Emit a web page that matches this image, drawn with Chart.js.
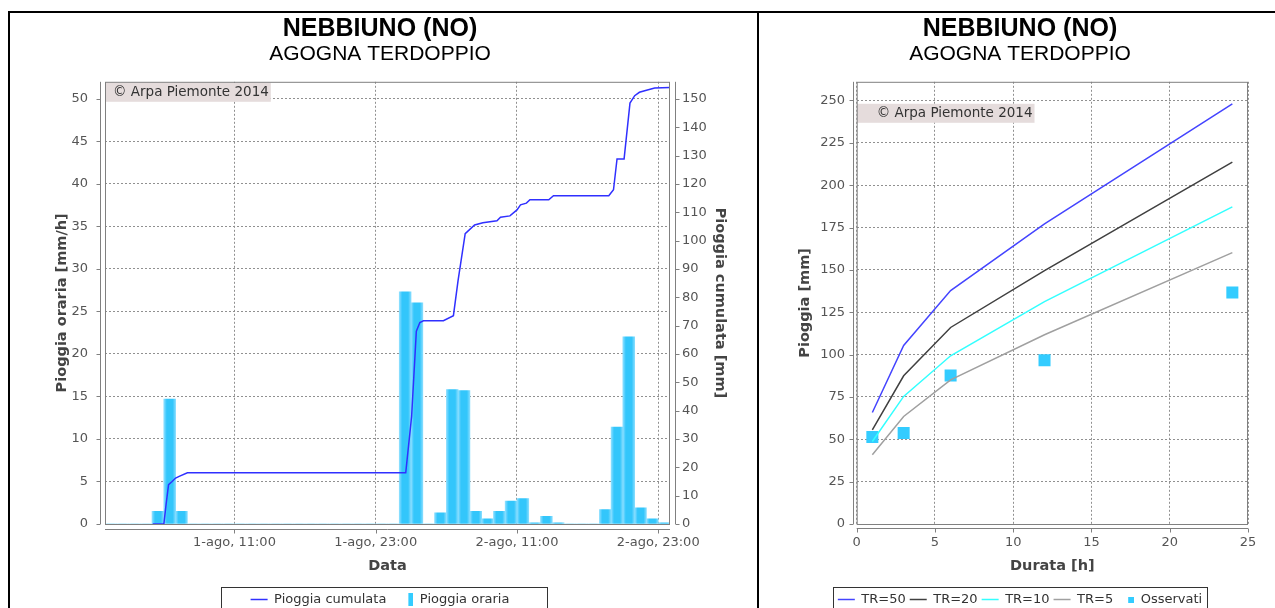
<!DOCTYPE html>
<html>
<head>
<meta charset="utf-8">
<script src="https://cdn.jsdelivr.net/npm/chart.js@4.4.1/dist/chart.umd.min.js"></script>
<style>
html, body { margin: 0; padding: 0; background: #fff; overflow: hidden; width: 1275px; height: 608px; }
.frame { position: absolute; border: 2px solid #000; height: 700px; }
#frameLeft { left: 8px; top: 11px; width: 747px; }
#frameRight { left: 757px; top: 11px; width: 600px; }
canvas { position: absolute; }
#cumChart { left: 10px; top: 13px; }
#trChart { left: 760px; top: 13px; }
</style>
</head>
<body>
<div class="frame" id="frameLeft"></div>
<div class="frame" id="frameRight"></div>
<canvas id="cumChart" width="740" height="603"></canvas>
<canvas id="trChart" width="520" height="603"></canvas>
<script>
const stationTitle = 'NEBBIUNO (NO)';
const basinTitle = 'AGOGNA TERDOPPIO';
const copyright = '© Arpa Piemonte 2014';

// pioggia oraria, ore a partire da 1-ago 00:00
const hourlyRain = [
    0, 0, 0, 0, 1.5, 14.7, 1.5, 0, 0, 0,
    0, 0, 0, 0, 0, 0, 0, 0, 0, 0,
    0, 0, 0, 0, 0, 27.3, 26.0, 0, 1.3, 15.8,
    15.7, 1.5, 0.6, 1.5, 2.7, 3.0, 0.15, 0.9, 0.15, 0,
    0, 0, 1.7, 11.4, 22.0, 1.9, 0.6, 0.15
];

// pioggia cumulata
const cumHours = [4.05, 5.0, 5.2, 5.4, 5.7, 6.0, 6.3, 7.0, 25.55, 26.05, 26.45, 26.75, 27.05, 28.75, 29.6, 30.0,
    30.6, 31.4, 32.1, 33.3, 33.6, 34.4, 35.0, 35.3, 35.8, 36.1, 37.7, 38.1, 42.8, 43.2, 43.5, 44.1,
    44.6, 45.0, 45.4, 46.0, 46.7, 48];
const cumRain = [0, 0, 7.3, 13.9, 15, 16.2, 16.8, 18.1, 18.1, 38, 68, 71.1, 71.7, 71.7, 73.5, 86,
    102.4, 105.5, 106.3, 107, 108.2, 108.7, 110.8, 112.6, 113.2, 114.4, 114.4, 115.8, 115.8, 117.9, 128.8, 128.8,
    148.5, 151.1, 152.3, 153, 153.8, 154];

const xTickHours = [11, 23, 35, 47];
const xTickLabels = ['1-ago, 11:00', '1-ago, 23:00', '2-ago, 11:00', '2-ago, 23:00'];
const hourlyTicks = [0, 5, 10, 15, 20, 25, 30, 35, 40, 45, 50];
const cumTicks = [0, 10, 20, 30, 40, 50, 60, 70, 80, 90, 100, 110, 120, 130, 140, 150];

// linee segnalatrici
const durations = [1, 3, 6, 12, 24];
const tr50 = [65.8, 105.4, 137.8, 177.2, 248];
const tr20 = [55.6, 87.5, 116, 149.6, 213.6];
const tr10 = [48.7, 75.3, 99.3, 131.3, 187.2];
const tr5 = [40.9, 63.5, 85.1, 111.7, 160.2];
const observed = [51.3, 53.7, 87.7, 96.7, 136.6];
const durTicks = [0, 5, 10, 15, 20, 25];
const rainTicks = [0, 25, 50, 75, 100, 125, 150, 175, 200, 225, 250];

const BAR_BLUE = '#33CCFF';
const GRID = '#909090';
const AXIS = '#808080';

// marcatore legenda: rettangolo pieno allineato a destra in un box largo 17
function marker(w, h, color) {
    const c = document.createElement('canvas');
    c.width = 17; c.height = h;
    const g = c.getContext('2d');
    g.fillStyle = color;
    g.fillRect(17 - w, 0, w, h);
    return c;
}

function stripePattern(ctx) {
    const c = document.createElement('canvas');
    c.width = 100; c.height = 4;
    const g = c.getContext('2d');
    const lg = g.createLinearGradient(0, 0, 100, 0);
    lg.addColorStop(0, '#8ee0ff');
    lg.addColorStop(0.12, '#5fd2ff');
    lg.addColorStop(0.25, '#33c6fb');
    lg.addColorStop(0.75, '#33c6fb');
    lg.addColorStop(1, '#86ddff');
    g.fillStyle = lg;
    g.fillRect(0, 0, 100, 4);
    return ctx.createPattern(c, 'repeat');
}

const cumCanvas = document.getElementById('cumChart');
const barPattern = stripePattern(cumCanvas.getContext('2d'));

// cornice del grafico, assi staccati, nota copyright, riquadro legenda
const frameAndMarks = {
    id: 'frameAndMarks',
    beforeDatasetsDraw(chart, args, opts) {
        if (!opts.pattern) return;
        const xs = chart.scales.x;
        const p0 = xs.getPixelForValue(0), p1 = xs.getPixelForValue(1);
        opts.pattern.setTransform(new DOMMatrix([(p1 - p0) / 100, 0, 0, 1, p0, 0]));
    },
    afterDatasetsDraw(chart, args, opts) {
        const {ctx, chartArea: a} = chart;
        ctx.save();
        ctx.font = '13.5px "DejaVu Sans"';
        const tw = ctx.measureText(copyright).width;
        ctx.fillStyle = '#E5DCDC';
        ctx.fillRect(a.left, a.top + opts.noteTop, opts.notePad + tw + 2, 19);
        ctx.fillStyle = '#333';
        ctx.textBaseline = 'middle';
        ctx.fillText(copyright, a.left + opts.notePad, a.top + opts.noteTop + 10);
        ctx.restore();
    },
    afterDraw(chart, args, opts) {
        const {ctx, chartArea: a} = chart;
        const off = opts.axisOffset;
        ctx.save();
        ctx.lineWidth = 1;
        ctx.strokeStyle = AXIS;
        ctx.strokeRect(a.left + 0.5, a.top + 0.5, a.right - a.left - 1, a.bottom - a.top);
        Object.values(chart.scales).forEach(s => {
            ctx.beginPath();
            if (s.position === 'bottom') {
                const y = Math.round(a.bottom + off) + 0.5;
                ctx.moveTo(a.left, y); ctx.lineTo(a.right, y);
                s.ticks.forEach(t => {
                    const px = Math.round(s.getPixelForValue(t.value)) + 0.5;
                    ctx.moveTo(px, y); ctx.lineTo(px, y + 4);
                });
            } else {
                const left = s.position === 'left';
                const x = Math.round(left ? a.left - off : a.right + off) + 0.5;
                ctx.moveTo(x, a.top); ctx.lineTo(x, a.bottom);
                s.ticks.forEach(t => {
                    const py = Math.round(s.getPixelForValue(t.value)) + 0.5;
                    ctx.moveTo(x, py); ctx.lineTo(left ? x - 4 : x + 4, py);
                });
            }
            ctx.stroke();
        });
        const boxes = chart.legend.legendHitBoxes;
        if (boxes && boxes.length) {
            const l = Math.min(...boxes.map(b => b.left)) - opts.legendPad[0];
            const r = Math.max(...boxes.map(b => b.left + b.width)) + opts.legendPad[1];
            const t = boxes[0].top - 6.5;
            ctx.strokeStyle = '#333';
            ctx.strokeRect(Math.round(l) + 0.5, Math.round(t) + 0.5, Math.round(r - l), chart.height);
        }
        ctx.restore();
    }
};

function legendLabels(padding) {
    return {
        usePointStyle: true,
        pointStyleWidth: 17,
        padding: padding,
        color: '#333',
        font: {size: 13},
        generateLabels(chart) {
            const items = Chart.defaults.plugins.legend.labels.generateLabels(chart);
            items.forEach(it => {
                const ds = chart.data.datasets[it.datasetIndex];
                if (ds.legendMarker) it.pointStyle = ds.legendMarker;
            });
            return items;
        }
    };
}

const titleFont = {family: "'Liberation Sans Narrow', sans-serif", size: 25, weight: 'bold', lineHeight: 1};
const subtitleFont = {family: "'Liberation Sans', sans-serif", size: 21, weight: 'normal', lineHeight: 1};
const axisTitleFont = {size: 14.5, weight: 'bold'};

Chart.defaults.font.family = "'DejaVu Sans', sans-serif";
Chart.defaults.font.size = 13;
Chart.defaults.color = '#555';

new Chart(cumCanvas, {
    type: 'bar',
    data: {
        datasets: [
            {
                type: 'line',
                label: 'Pioggia cumulata',
                data: cumHours.map((h, i) => ({x: h, y: cumRain[i]})),
                yAxisID: 'yCum',
                borderColor: '#3030FF',
                borderWidth: 1.5,
                pointRadius: 0,
                pointStyle: 'line',
                tension: 0,
                order: 0
            },
            {
                type: 'bar',
                label: 'Pioggia oraria',
                data: hourlyRain.map((v, i) => ({x: i + 0.5, y: v})),
                yAxisID: 'yRain',
                backgroundColor: barPattern,
                borderWidth: 0,
                barPercentage: 1,
                categoryPercentage: 1,
                legendMarker: marker(5, 13, BAR_BLUE),
                order: 1
            }
        ]
    },
    options: {
        responsive: false,
        animation: false,
        events: [],
        layout: {padding: 0},
        scales: {
            x: {
                type: 'linear', min: 0, max: 48, offset: false,
                afterBuildTicks: s => { s.ticks = xTickHours.map(v => ({value: v})); },
                afterFit: s => { s.height = 59; },
                ticks: {callback: (v, i) => xTickLabels[i], padding: 11.2, maxRotation: 0, autoSkip: false},
                grid: {color: GRID, drawTicks: false, offset: false},
                border: {display: false, dash: [2, 2]},
                title: {display: true, text: 'Data', color: '#444', font: axisTitleFont, padding: {top: 0, bottom: 8.3}}
            },
            yRain: {
                position: 'left', min: 0, max: 52,
                afterBuildTicks: s => { s.ticks = hourlyTicks.map(v => ({value: v})); },
                afterFit: s => { s.width = 95; },
                ticks: {padding: 17},
                grid: {color: GRID, drawTicks: false},
                border: {display: false, dash: [2, 2]},
                title: {display: true, text: 'Pioggia oraria [mm/h]', color: '#444', font: axisTitleFont, padding: {top: 43.3, bottom: 0}}
            },
            yCum: {
                position: 'right', min: 0, max: 156,
                afterBuildTicks: s => { s.ticks = cumTicks.map(v => ({value: v})); },
                afterFit: s => { s.width = 80; },
                ticks: {padding: 12},
                grid: {drawOnChartArea: false, drawTicks: false},
                border: {display: false},
                title: {display: true, text: 'Pioggia cumulata [mm]', color: '#444', font: axisTitleFont, padding: {top: 21.3, bottom: 0}}
            }
        },
        plugins: {
            legend: {position: 'bottom', labels: legendLabels(10)},
            tooltip: {enabled: false},
            title: {display: true, text: stationTitle, color: '#000', font: titleFont, padding: {top: 3.7, bottom: 2.1}},
            subtitle: {display: true, text: basinTitle, color: '#000', font: subtitleFont, padding: {top: 0, bottom: 17}},
            frameAndMarks: {pattern: barPattern, axisOffset: 5, noteTop: 1, notePad: 8, legendPad: [30, 37]}
        }
    },
    plugins: [frameAndMarks]
});

const lineSet = (label, values, color) => ({
    label: label,
    data: durations.map((d, i) => ({x: d, y: values[i]})),
    borderColor: color,
    backgroundColor: color,
    borderWidth: 1.5,
    pointRadius: 0,
    pointStyle: 'line',
    tension: 0
});

new Chart(document.getElementById('trChart'), {
    type: 'line',
    data: {
        datasets: [
            lineSet('TR=50', tr50, '#4444FF'),
            lineSet('TR=20', tr20, '#404040'),
            lineSet('TR=10', tr10, '#33FFFF'),
            lineSet('TR=5', tr5, '#A0A0A0'),
            {
                label: 'Osservati',
                data: durations.map((d, i) => ({x: d, y: observed[i]})),
                showLine: false,
                pointStyle: 'rect',
                pointRadius: 8.5,
                backgroundColor: BAR_BLUE,
                borderColor: BAR_BLUE,
                borderWidth: 0,
                legendMarker: marker(6, 6, BAR_BLUE)
            }
        ]
    },
    options: {
        responsive: false,
        animation: false,
        events: [],
        layout: {padding: {left: 32, right: 32, top: 0, bottom: 0}},
        scales: {
            x: {
                type: 'linear', min: 0, max: 25,
                afterBuildTicks: s => { s.ticks = durTicks.map(v => ({value: v})); },
                afterFit: s => { s.height = 65; },
                ticks: {padding: 11.2, maxRotation: 0, autoSkip: false},
                grid: {color: GRID, drawTicks: false},
                border: {display: false, dash: [2, 2]},
                title: {display: true, text: 'Durata [h]', color: '#444', font: axisTitleFont, padding: {top: 0, bottom: 14.3}}
            },
            y: {
                position: 'left', min: 0, max: 261,
                afterBuildTicks: s => { s.ticks = rainTicks.map(v => ({value: v})); },
                afterFit: s => { s.width = 64.7; },
                ticks: {padding: 11.7},
                grid: {color: GRID, drawTicks: false},
                border: {display: false, dash: [2, 2]},
                title: {display: true, text: 'Pioggia [mm]', color: '#444', font: axisTitleFont, padding: {top: 4.8, bottom: 0}}
            }
        },
        plugins: {
            legend: {position: 'bottom', labels: legendLabels(4)},
            tooltip: {enabled: false},
            title: {display: true, text: stationTitle, color: '#000', font: titleFont, padding: {top: 3.7, bottom: 2.1}},
            subtitle: {display: true, text: basinTitle, color: '#000', font: subtitleFont, padding: {top: 0, bottom: 17}},
            frameAndMarks: {axisOffset: 4, noteTop: 22, notePad: 20, legendPad: [5, 5]}
        }
    },
    plugins: [frameAndMarks]
});
</script>
</body>
</html>
